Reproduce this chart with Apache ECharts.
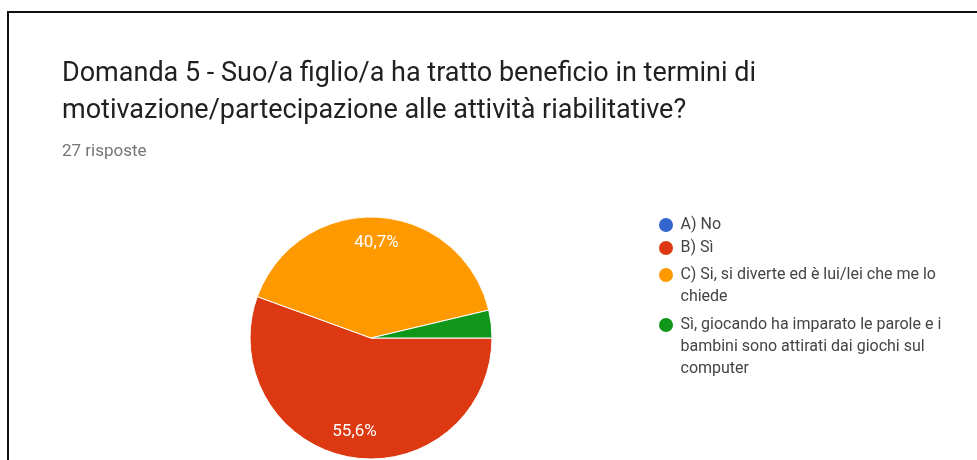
<!DOCTYPE html>
<html>
<head>
<meta charset="utf-8">
<script src="https://cdn.jsdelivr.net/npm/echarts@6/dist/echarts.min.js"></script>
<style>
  html, body { margin: 0; padding: 0; background: #fff; }
  #chart { width: 977px; height: 460px; }
</style>
</head>
<body>
<div id="chart"></div>
<script>
// Risposte alla domanda 5 (27 risposte totali)
const categories = [
  'A) No',
  'B) Sì',
  'C) Si, si diverte ed è lui/lei che me lo chiede',
  'Sì, giocando ha imparato le parole e i bambini sono attirati dai giochi sul computer'
];
const counts = [0, 15, 11, 1];
const colors = ['#3366cc', '#dc3912', '#ff9900', '#109618'];
const titleText = 'Domanda 5 - Suo/a figlio/a ha tratto beneficio in termini di\nmotivazione/partecipazione alle attività riabilitative?';
const subtitleText = '27 risposte';

// legend layout: centre of each entry's first line, and how many lines it wraps to
const legendFirstLineY = [225, 248, 275, 325];
const legendLines = [1, 1, 2, 3];
const LEGEND_LH = 22;

const pieData = categories.map((name, i) => ({
  name: name,
  value: counts[i],
  itemStyle: { color: colors[i] }
}));

const total = counts.reduce((a, b) => a + b, 0);
const pctLabel = (p) => {
  const share = p.value / total * 100;
  if (share < 5) return '';
  return share.toFixed(1).replace('.', ',') + '%';
};

// One legend per entry. Legend text is centred on its marker, so wrapped
// entries get empty leading lines to keep the marker beside the first line.
const legends = categories.map((name, i) => {
  const n = legendLines[i];
  return {
    orient: 'vertical',
    left: 657,
    top: legendFirstLineY[i] - (2 * n - 1) * LEGEND_LH / 2,
    padding: 0,
    icon: 'circle',
    itemWidth: 19,
    itemHeight: 16,
    data: [name],
    formatter: (label) => '\n'.repeat(n - 1) + label,
    textStyle: {
      fontFamily: 'Roboto',
      fontSize: 16,
      color: '#444444',
      lineHeight: LEGEND_LH,
      width: 280,
      overflow: 'break'
    }
  };
});

const chart = echarts.init(document.getElementById('chart'));
chart.setOption({
  animation: false,
  title: {
    text: titleText,
    subtext: subtitleText,
    left: 62,
    top: 56,
    padding: 0,
    itemGap: 12,
    textStyle: {
      fontFamily: 'Roboto',
      fontSize: 27,
      fontWeight: 'normal',
      color: '#212121',
      lineHeight: 37
    },
    subtextStyle: {
      fontFamily: 'Roboto',
      fontSize: 17,
      color: '#757575',
      lineHeight: 20
    }
  },
  legend: legends,
  graphic: [
    {
      type: 'polyline',
      shape: { points: [[8, 460], [8, 12], [977, 12]] },
      style: { stroke: '#111', lineWidth: 2, fill: null },
      silent: true
    }
  ],
  series: [
    {
      type: 'pie',
      center: [371, 338],
      radius: [0, 121],
      startAngle: 0,
      clockwise: true,
      avoidLabelOverlap: false,
      label: { show: false },
      labelLine: { show: false },
      emphasis: { disabled: true },
      itemStyle: { borderColor: '#ffffff', borderWidth: 1 },
      data: pieData,
      z: 2
    },
    {
      // transparent copy that only carries the percentage labels further out
      type: 'pie',
      center: [371, 338],
      radius: [0, 184],
      startAngle: 0,
      clockwise: true,
      silent: true,
      avoidLabelOverlap: false,
      legendHoverLink: false,
      itemStyle: { color: 'rgba(0,0,0,0)', borderWidth: 0 },
      label: {
        show: true,
        position: 'inside',
        formatter: pctLabel,
        fontFamily: 'Roboto',
        fontSize: 17,
        color: '#ffffff'
      },
      labelLine: { show: false },
      emphasis: { disabled: true },
      data: categories.map((name, i) => ({ name: name, value: counts[i] })),
      z: 3
    }
  ]
});
</script>
</body>
</html>
